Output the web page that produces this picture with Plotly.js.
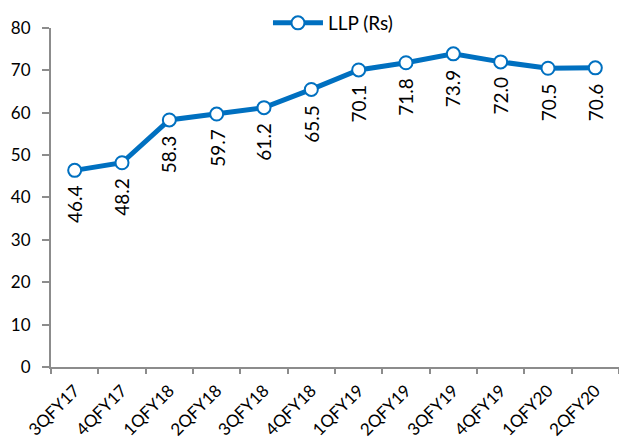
<!DOCTYPE html>
<html>
<head>
<meta charset="utf-8">
<script src="https://cdn.plot.ly/plotly-3.0.1.min.js"></script>
<style>html,body{margin:0;padding:0;background:#fff;}#chart{width:619px;height:441px;}</style>
</head>
<body>
<div id="chart"></div>
<script>
var categories = ["3QFY17","4QFY17","1QFY18","2QFY18","3QFY18","4QFY18","1QFY19","2QFY19","3QFY19","4QFY19","1QFY20","2QFY20"];
var llpValues = [46.4, 48.2, 58.3, 59.7, 61.2, 65.5, 70.1, 71.8, 73.9, 72.0, 70.5, 70.6];
var seriesName = "LLP (Rs)";
var yTicks = [0,10,20,30,40,50,60,70,80];

var FONT = "Lato, 'Open Sans', sans-serif";
var BLUE = "#0070C0";
var AXIS = "#8c8c8c";

var trace = {
  x: categories,
  y: llpValues,
  name: seriesName,
  type: "scatter",
  mode: "lines+markers",
  line: {color: BLUE, width: 5},
  marker: {size: 13, color: "#ffffff", line: {color: BLUE, width: 2}},
  showlegend: true
};

var annotations = categories.map(function(c, i){
  return {
    x: c, y: llpValues[i], xref: "x", yref: "y",
    text: llpValues[i].toFixed(1),
    textangle: -90,
    showarrow: false,
    xanchor: "center", yanchor: "middle",
    yshift: -34,
    font: {family: FONT, size: 19, color: "#000"}
  };
});

var layout = {
  width: 619, height: 441,
  margin: {l: 51, r: 0, t: 4, b: 74},
  paper_bgcolor: "#fff", plot_bgcolor: "#fff",
  font: {family: FONT, size: 16, color: "#000"},
  xaxis: {
    type: "category",
    range: [-0.5, 11.5],
    tickson: "boundaries",
    ticks: "outside", ticklen: 5, tickwidth: 2, tickcolor: AXIS,
    showline: true, linecolor: AXIS, linewidth: 2,
    showgrid: false, zeroline: false,
    tickangle: -45,
    ticklabelstandoff: 5,
    automargin: false,
    tickfont: {family: FONT, size: 17, color: "#000"}
  },
  yaxis: {
    range: [0, 80],
    domain: [0, 0.9339],
    tickvals: yTicks,
    ticks: "outside", ticklen: 7, tickwidth: 2, tickcolor: AXIS,
    showline: true, linecolor: AXIS, linewidth: 2,
    showgrid: false, zeroline: false,
    ticklabelstandoff: 8,
    automargin: false,
    tickfont: {family: FONT, size: 17, color: "#000"}
  },
  legend: {
    orientation: "h",
    x: 0.382, xanchor: "left",
    y: 1.0, yanchor: "top",
    itemwidth: 50,
    font: {family: FONT, size: 19, color: "#000"},
    bgcolor: "rgba(0,0,0,0)"
  },
  annotations: annotations
};

Plotly.newPlot("chart", [trace], layout, {displayModeBar: false, staticPlot: true});
</script>
</body>
</html>
